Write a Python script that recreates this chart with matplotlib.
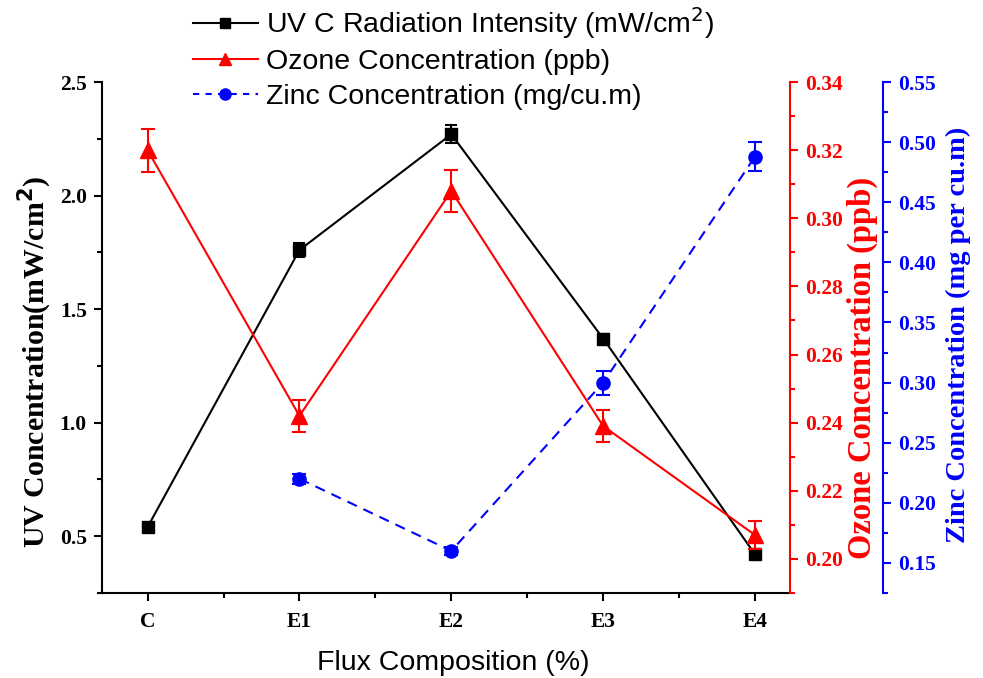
import matplotlib
matplotlib.use("Agg")
import matplotlib.pyplot as plt
from matplotlib.ticker import MultipleLocator, FormatStrFormatter
from matplotlib.lines import Line2D

categories = ["C", "E1", "E2", "E3", "E4"]

uv_intensity = [0.54, 1.76, 2.27, 1.37, 0.42]
uv_err = [0.015, 0.03, 0.04, 0.02, 0.015]

ozone = [0.320, 0.242, 0.308, 0.239, 0.207]
ozone_err = [0.0063, 0.0047, 0.0062, 0.0047, 0.004]

zinc_cats = ["E1", "E2", "E3", "E4"]
zinc = [0.22, 0.16, 0.30, 0.488]
zinc_err = [0.004, 0.003, 0.010, 0.012]

SERIF = "Liberation Serif"
SANS = "Liberation Sans"
TICK_FS = 15.5

W, H = 983, 678
fig = plt.figure(figsize=(W / 100, H / 100), dpi=100)
ax = fig.add_axes([102 / W, 1 - 593 / H, (790 - 102) / W, (593 - 82) / H])
ax2 = ax.twinx()
ax3 = ax.twinx()

x = list(range(len(categories)))
xz = [categories.index(c) for c in zinc_cats]


def style_ticks(a, color, axis="both"):
    a.tick_params(axis=axis, which="major", direction="out", length=6, width=1.5,
                  colors=color, pad=5)
    a.tick_params(axis=axis, which="minor", direction="out", length=3.5, width=1.5,
                  colors=color)


def bold_serif_labels(labels):
    for lab in labels:
        lab.set_fontfamily(SERIF)
        lab.set_fontweight("bold")
        lab.set_fontsize(TICK_FS)


def to_axes_y(py):
    # pixel row (from the top) -> axes fraction
    return (593 - py) / (593 - 82)


def to_axes_x(px):
    return (px - 102) / (790 - 102)


# UV radiation (left axis)
ax.errorbar(x, uv_intensity, yerr=uv_err, color="black", lw=1.5, marker="s",
            ms=9, capsize=4, elinewidth=1.5, capthick=1.5, zorder=3)
ax.set_xlim(-0.30, 4.23)
ax.set_ylim(0.25, 2.5)
ax.set_xticks(x)
ax.set_xticklabels(categories)
ax.xaxis.set_minor_locator(MultipleLocator(0.5))
ax.yaxis.set_major_locator(MultipleLocator(0.5))
ax.yaxis.set_minor_locator(MultipleLocator(0.25))
ax.set_ylabel("UV Concentration(mW/cm$\\mathbf{^2}$)", fontsize=21.5, family=SERIF,
              weight="bold")
ax.yaxis.set_label_coords(to_axes_x(35), to_axes_y(362))
ax.yaxis.label.set_va("center")
ax.set_xlabel("Flux Composition (%)", fontsize=20.5, family=SANS)
ax.xaxis.set_label_coords(to_axes_x(453), to_axes_y(663))
ax.xaxis.label.set_va("center")
style_ticks(ax, "black")
ax.tick_params(axis="x", which="major", pad=8)
bold_serif_labels(ax.get_xticklabels() + ax.get_yticklabels())
ax.spines["top"].set_visible(False)
ax.spines["right"].set_visible(False)
for s in ("left", "bottom"):
    ax.spines[s].set_linewidth(1.5)

# Ozone (first right axis)
ax2.errorbar(x, ozone, yerr=ozone_err, color="red", lw=1.5, marker="^",
             ms=11, capsize=5, elinewidth=1.5, capthick=1.5, zorder=3)
ax2.set_ylim(0.19, 0.34)
ax2.yaxis.set_major_locator(MultipleLocator(0.02))
ax2.yaxis.set_minor_locator(MultipleLocator(0.01))
ax2.yaxis.set_major_formatter(FormatStrFormatter("%.2f"))
ax2.set_ylabel("Ozone Concentration (ppb)", fontsize=23.5, color="red", family=SERIF,
               weight="bold")
ax2.yaxis.set_label_coords(to_axes_x(862), to_axes_y(368))
ax2.yaxis.label.set_va("center")
style_ticks(ax2, "red", axis="y")
bold_serif_labels(ax2.get_yticklabels())
for s in ("top", "left", "bottom"):
    ax2.spines[s].set_visible(False)
ax2.spines["right"].set_color("red")
ax2.spines["right"].set_linewidth(1.5)

# Zinc (second right axis, offset outward)
ax3.errorbar(xz, zinc, yerr=zinc_err, color="blue", lw=1.5, ls=(0, (5, 3.5)), marker="o",
             ms=9.5, capsize=5, elinewidth=1.5, capthick=1.5, zorder=3)
ax3.set_ylim(0.125, 0.55)
ax3.spines["right"].set_position(("outward", 93 * 72 / 100))
ax3.yaxis.set_major_locator(MultipleLocator(0.05))
ax3.yaxis.set_minor_locator(MultipleLocator(0.025))
ax3.yaxis.set_major_formatter(FormatStrFormatter("%.2f"))
ax3.set_ylabel("Zinc Concentration (mg per cu.m)", fontsize=20.5, color="blue", family=SERIF,
               weight="bold")
ax3.yaxis.set_label_coords(to_axes_x(958), to_axes_y(335))
ax3.yaxis.label.set_va("center")
style_ticks(ax3, "blue", axis="y")
bold_serif_labels(ax3.get_yticklabels())
for s in ("top", "left", "bottom"):
    ax3.spines[s].set_visible(False)
ax3.spines["right"].set_color("blue")
ax3.spines["right"].set_linewidth(1.5)

handles = [
    Line2D([], [], color="black", lw=1.5, marker="s", ms=7),
    Line2D([], [], color="red", lw=1.5, marker="^", ms=9),
    Line2D([], [], color="blue", lw=1.5, ls=(0, (3, 3)), marker="o", ms=8),
]
labels = [
    "UV C Radiation Intensity (mW/cm$^2$)",
    "Ozone Concentration (ppb)",
    "Zinc Concentration (mg/cu.m)",
]
fig.legend(handles, labels, loc="upper left", bbox_to_anchor=(167 / W, 1 + 21 / H),
           frameon=False, prop=dict(family=SANS, size=20.5), handlelength=2.3,
           handletextpad=0.28, labelspacing=0.3)

fig.savefig("out.png", dpi=100)
